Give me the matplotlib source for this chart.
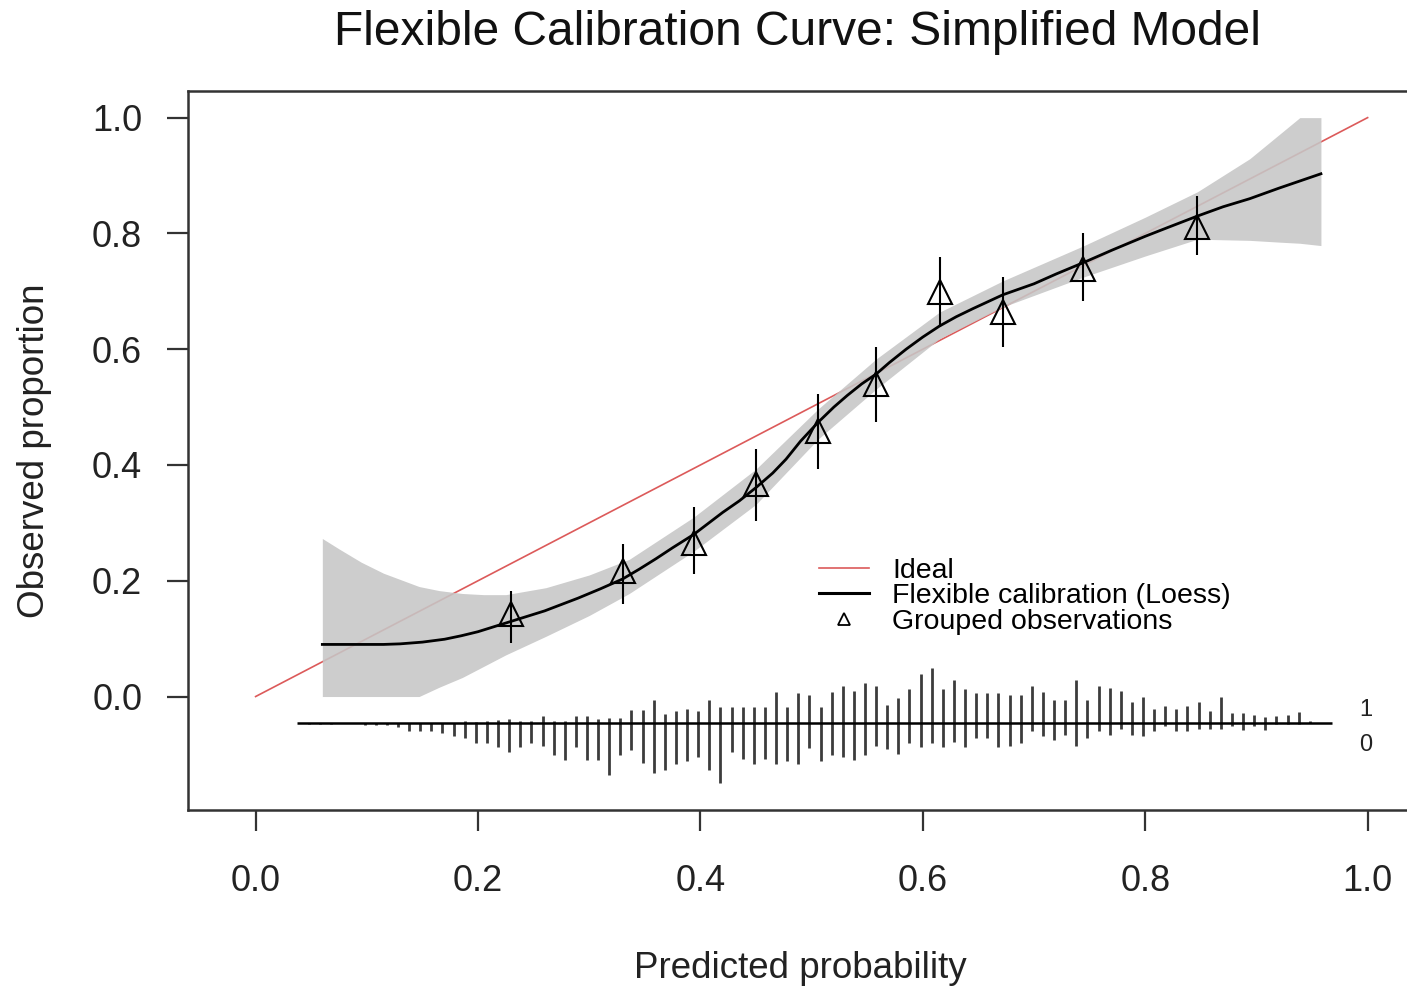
import numpy as np
import matplotlib
matplotlib.use("Agg")
import matplotlib.pyplot as plt
from matplotlib.lines import Line2D

plt.rcParams['font.family'] = ['Liberation Sans', 'DejaVu Sans']

curve_x = [0.06, 0.10, 0.115, 0.13, 0.15, 0.17, 0.185, 0.20, 0.215, 0.23, 0.245, 0.26,
           0.275, 0.29, 0.31, 0.33, 0.345, 0.36, 0.375, 0.394, 0.42, 0.435, 0.45,
           0.465, 0.477, 0.49, 0.506, 0.52, 0.532, 0.545, 0.558, 0.57, 0.585, 0.60,
           0.615, 0.63, 0.645, 0.672, 0.70, 0.72, 0.745, 0.77, 0.80, 0.82, 0.847,
           0.87, 0.894, 0.92, 0.958]
curve_y = [0.090, 0.090, 0.090, 0.091, 0.094, 0.099, 0.105, 0.112, 0.121, 0.130, 0.139, 0.148,
           0.159, 0.170, 0.186, 0.203, 0.220, 0.238, 0.257, 0.280, 0.318, 0.338, 0.361,
           0.386, 0.410, 0.441, 0.474, 0.500, 0.520, 0.540, 0.557, 0.577, 0.600, 0.621,
           0.640, 0.656, 0.670, 0.694, 0.713, 0.730, 0.750, 0.771, 0.795, 0.810, 0.830,
           0.846, 0.860, 0.878, 0.903]

# confidence band
band_x = [0.06, 0.075, 0.095, 0.115, 0.147, 0.165, 0.186, 0.205, 0.225, 0.261, 0.30,
          0.336, 0.394, 0.45, 0.506, 0.558, 0.615, 0.672, 0.745, 0.80, 0.847, 0.894,
          0.92, 0.939, 0.958]
band_hi = [0.273, 0.255, 0.232, 0.213, 0.190, 0.183, 0.178, 0.176, 0.176, 0.188, 0.210,
           0.237, 0.310, 0.393, 0.497, 0.583, 0.664, 0.718, 0.779, 0.828, 0.872, 0.929,
           0.970, 1.0, 1.0]
band_lo = [0.0, 0.0, 0.0, 0.0, 0.0, 0.016, 0.033, 0.052, 0.072, 0.104, 0.140,
           0.178, 0.251, 0.332, 0.445, 0.531, 0.618, 0.673, 0.725, 0.761, 0.790, 0.788,
           0.785, 0.783, 0.779]

# grouped observations with CIs
grp_x = [0.230, 0.330, 0.394, 0.450, 0.506, 0.558, 0.615, 0.672, 0.744, 0.847]
grp_y = [0.142, 0.217, 0.266, 0.367, 0.459, 0.540, 0.698, 0.664, 0.739, 0.811]
grp_lo = [0.093, 0.159, 0.211, 0.303, 0.393, 0.474, 0.638, 0.604, 0.684, 0.762]
grp_hi = [0.183, 0.264, 0.327, 0.427, 0.522, 0.603, 0.759, 0.725, 0.800, 0.864]

# distribution of predictions, outcome 1 (up) and 0 (down), bins of 0.01 from 0.048
count_1 = [0, 0, 0, 0, 0, 0, 0, 0, 0, 0,
           0, 0, 0, 0, 2, 1, 2, 3, 4, 2,
           2, 7, 2, 2, 7, 7, 4, 5, 5, 13,
           13, 23, 9, 12, 14, 12, 23, 16, 16, 16,
           16, 16, 31, 16, 30, 28, 16, 31, 37, 32,
           40, 37, 18, 25, 34, 49, 55, 34, 43, 34,
           30, 30, 30, 28, 28, 37, 31, 23, 23, 43,
           23, 37, 35, 32, 21, 26, 14, 17, 14, 17,
           21, 12, 26, 10, 10, 8, 6, 7, 8, 11, 2]
count_0 = [1, 1, 1, 0, 0, 2, 2, 2, 4, 8,
           8, 8, 10, 13, 15, 20, 20, 25, 30, 25,
           20, 23, 33, 38, 25, 38, 38, 53, 33, 28,
           41, 51, 48, 42, 39, 35, 48, 61, 30, 37,
           42, 37, 42, 39, 42, 26, 39, 33, 35, 38,
           33, 23, 27, 32, 20, 25, 20, 25, 19, 24,
           15, 15, 24, 23, 20, 8, 13, 17, 12, 23,
           15, 8, 12, 6, 12, 13, 8, 3, 8, 8,
           6, 6, 6, 3, 7, 3, 7, 1, 1, 1, 0]

fig = plt.figure(figsize=(14.07, 9.9), dpi=100)
ax = fig.add_axes([188 / 1407, 180 / 990, 1225 / 1407, 719 / 990])
ax.set_xlim(-0.0608, 1.0408)
ax.set_ylim(-0.196, 1.046)

ax.plot([0, 1], [0, 1], color='#dc5a5a', lw=1.2, zorder=2)
ax.fill_between(band_x, band_lo, band_hi, color='#c6c6c6', alpha=0.88, lw=0, zorder=3)
ax.plot(curve_x, curve_y, color='black', lw=2.0, zorder=4)

ax.vlines(grp_x, grp_lo, grp_hi, color='black', lw=1.5, zorder=5)
ax.plot(grp_x, grp_y, linestyle='none', marker='^', markersize=17,
        markerfacecolor='none', markeredgecolor='black', markeredgewidth=1.5, zorder=6)

# spike histogram
base = -0.045
bin_x = np.round(0.048 + 0.01 * np.arange(len(count_1)), 3)
c1 = np.array(count_1, dtype=float)
c0 = np.array(count_0, dtype=float)
scale = 0.105 / max(c1.max(), c0.max())
ax.hlines(base, 0.037, 0.968, color='black', lw=1.8, zorder=4)
m1 = c1 > 0
m0 = c0 > 0
ax.vlines(bin_x[m1], base, base + c1[m1] * scale, color='#3c3c3c', lw=2.0, zorder=3)
ax.vlines(bin_x[m0], base, base - c0[m0] * scale, color='#3c3c3c', lw=2.0, zorder=3)
ax.text(0.998, base + 0.021, '1', ha='center', va='center', fontsize=17, color='#222222')
ax.text(0.998, base - 0.038, '0', ha='center', va='center', fontsize=17, color='#222222')

handles = [Line2D([], [], color='#dc5a5a', lw=1.2),
           Line2D([], [], color='black', lw=2.2),
           Line2D([], [], linestyle='none', marker='^', markersize=8,
                  markerfacecolor='none', markeredgecolor='black', markeredgewidth=1.3)]
ax.legend(handles, ['Ideal', 'Flexible calibration (Loess)', 'Grouped observations'],
          loc='center left', bbox_to_anchor=(0.507, 0.173), bbox_transform=ax.transData,
          frameon=False, fontsize=20.5, labelspacing=-0.03, handlelength=1.75,
          handletextpad=0.8, borderpad=0, borderaxespad=0)

ax.set_xticks([0.0, 0.2, 0.4, 0.6, 0.8, 1.0])
ax.set_xticklabels(['0.0', '0.2', '0.4', '0.6', '0.8', '1.0'])
ax.set_yticks([0.0, 0.2, 0.4, 0.6, 0.8, 1.0])
ax.set_yticklabels(['0.0', '0.2', '0.4', '0.6', '0.8', '1.0'])
ax.tick_params(axis='both', direction='out', length=15, width=1.6, color='#333333',
               labelsize=26, labelcolor='#222222')
ax.tick_params(axis='x', pad=24)
ax.tick_params(axis='y', pad=18)
for side in ['left', 'bottom', 'top', 'right']:
    ax.spines[side].set_linewidth(1.8)
    ax.spines[side].set_color('#333333')

ax.set_xlabel('Predicted probability', fontsize=26.5, color='#222222')
ax.xaxis.set_label_coords(0.5, -0.22)
ax.xaxis.label.set_va('center')
ax.set_ylabel('Observed proportion', fontsize=26.5, color='#222222')
ax.yaxis.set_label_coords(-0.125, 0.5)
ax.yaxis.label.set_va('center')

fig.text(0.567, 0.967, 'Flexible Calibration Curve: Simplified Model', ha='center',
         va='center', fontsize=34.5, color='#111111')

fig.savefig('out.png', dpi=100)
